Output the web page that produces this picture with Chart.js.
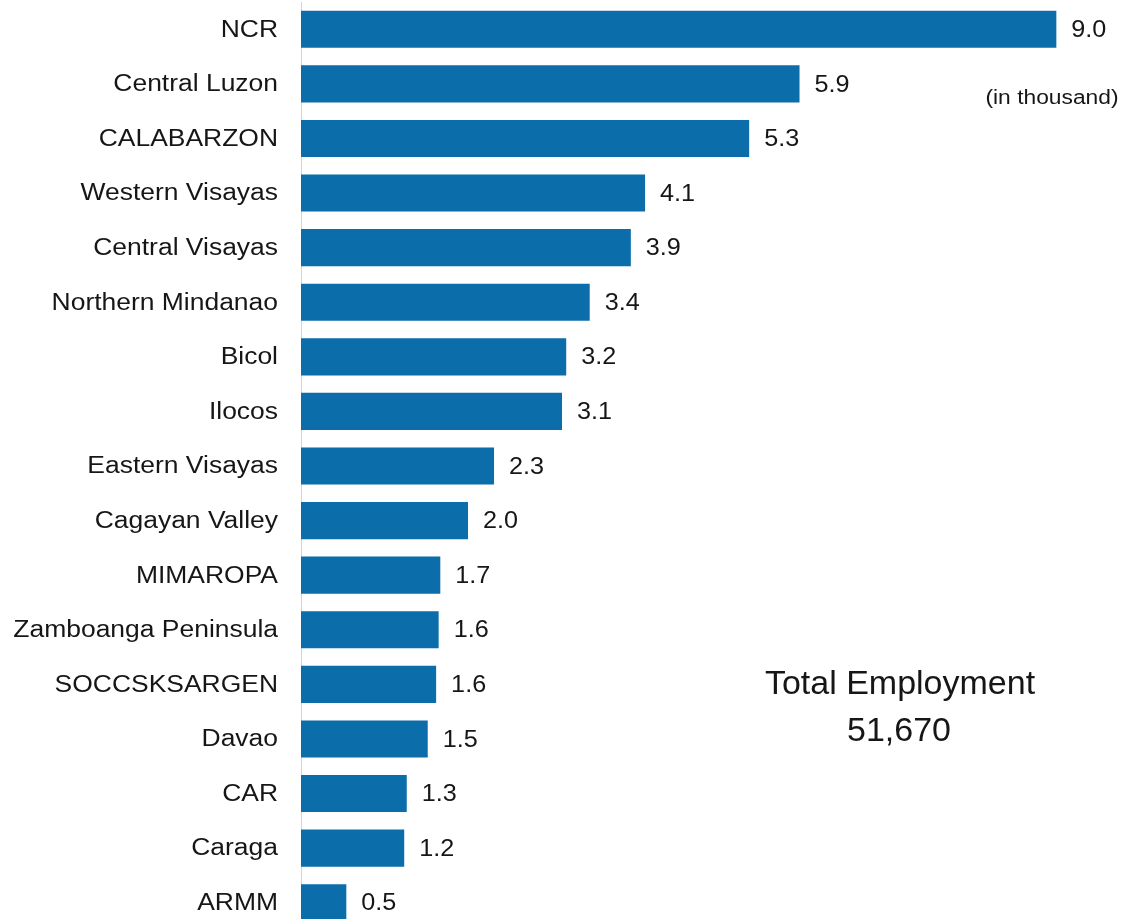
<!DOCTYPE html>
<html lang="en">
<head>
    <meta charset="UTF-8">
    <title>Employment by Region</title>
    <style>
        html, body { margin: 0; padding: 0; background: #fff; overflow: hidden; }
        .wrap { width: 1126px; height: 932px; }
    </style>
</head>
<body>
    <div class="wrap">
        <canvas id="chart"></canvas>
    </div>

    <script src="https://cdn.jsdelivr.net/npm/chart.js"></script>
    <script>
        // regions, top to bottom
        const regions = [
            'NCR', 'Central Luzon', 'CALABARZON', 'Western Visayas', 'Central Visayas',
            'Northern Mindanao', 'Bicol', 'Ilocos', 'Eastern Visayas', 'Cagayan Valley',
            'MIMAROPA', 'Zamboanga Peninsula', 'SOCCSKSARGEN', 'Davao', 'CAR', 'Caraga', 'ARMM'
        ];
        // employment, in thousand
        const employment = [
            9.0, 5.94, 5.34, 4.10, 3.93,
            3.44, 3.16, 3.11, 2.30, 1.99,
            1.66, 1.64, 1.61, 1.51, 1.26, 1.23, 0.54
        ];
        const unitNote = '(in thousand)';
        const totalTitle = 'Total Employment';
        const totalValue = '51,670';

        const textColor = '#161616';
        const barColor = '#0b6eaa';

        // draw text with an optional horizontal stretch (the source scan is a bit wide)
        function drawText(ctx, text, x, y, font, sx, align, baseline) {
            ctx.save();
            ctx.translate(x, y);
            ctx.scale(sx, 1);
            ctx.font = font;
            ctx.fillStyle = textColor;
            ctx.textAlign = align;
            ctx.textBaseline = baseline || 'middle';
            ctx.fillText(text, 0, 0);
            ctx.restore();
        }

        const textPlugin = {
            id: 'textPlugin',
            afterDatasetsDraw(chart) {
                const ctx = chart.ctx;
                const yScale = chart.scales.y;
                const meta = chart.getDatasetMeta(0);
                const font = '"Liberation Sans", Arial, sans-serif';

                regions.forEach((name, i) => {
                    drawText(ctx, name, 278, yScale.getPixelForTick(i) + 1, '23px ' + font, 1.15, 'right');
                });
                meta.data.forEach((bar, i) => {
                    drawText(ctx, employment[i].toFixed(1), bar.x + 15, bar.y + 1, '24px ' + font, 1.05, 'left');
                });

                drawText(ctx, unitNote, 1052, 98, '20px ' + font, 1.14, 'center');
                drawText(ctx, totalTitle, 900, 694, '34px ' + font, 1.0, 'center', 'alphabetic');
                drawText(ctx, totalValue, 899, 741, '34px ' + font, 1.0, 'center', 'alphabetic');
            }
        };

        new Chart(document.getElementById('chart'), {
            type: 'bar',
            data: {
                labels: regions,
                datasets: [{
                    data: employment,
                    backgroundColor: barColor,
                    borderWidth: 0,
                    barPercentage: 0.68,
                    categoryPercentage: 1.0
                }]
            },
            options: {
                indexAxis: 'y',
                responsive: true,
                maintainAspectRatio: false,
                animation: false,
                layout: { padding: { left: 301, right: 0, top: 2, bottom: 2 } },
                scales: {
                    x: {
                        display: false,
                        min: 0,
                        max: 9.83
                    },
                    y: {
                        ticks: { display: false },
                        grid: { display: false, drawTicks: false },
                        border: { display: true, color: '#d4d4d4', width: 1 }
                    }
                },
                plugins: {
                    legend: { display: false },
                    tooltip: { enabled: false }
                }
            },
            plugins: [textPlugin]
        });
    </script>
</body>
</html>
